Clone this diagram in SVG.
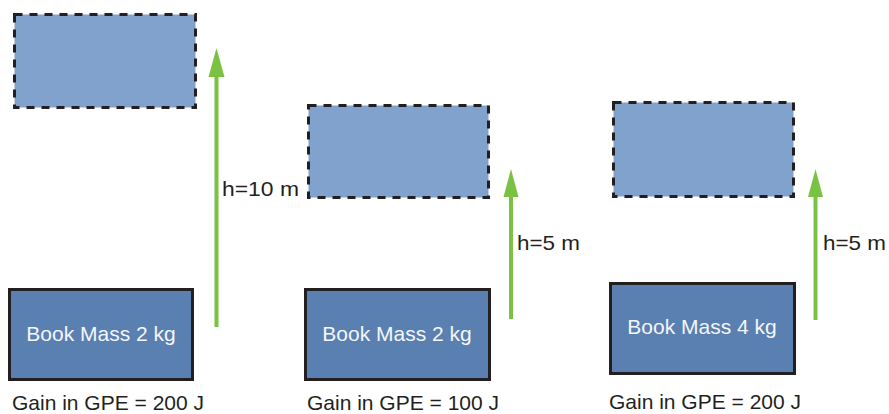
<svg xmlns="http://www.w3.org/2000/svg" width="889" height="414" viewBox="0 0 889 414">
<defs>
<style>
.ghost{fill:#80a2cd;stroke:#231f20;stroke-width:3;stroke-dasharray:8 7}
.book{fill:#5a7fb1;stroke:#231f20;stroke-width:3}
.bt{font-family:"Liberation Sans",Arial,sans-serif;font-size:21px;fill:#f4f6fa;text-anchor:middle}
.lb{font-family:"Liberation Sans",Arial,sans-serif;font-size:21px;fill:#231f20}
.arr{stroke:#7cc242;stroke-width:4;fill:none}
.head{fill:#7cc242}
</style>
</defs>
<rect width="889" height="414" fill="#ffffff"/>
<g id="ghost1"><rect class="ghost" x="14.5" y="14.5" width="181" height="93"/></g>
<g id="ghost2"><rect class="ghost" x="308.5" y="105.5" width="180" height="92"/></g>
<g id="ghost3"><rect class="ghost" x="613.5" y="102.5" width="180" height="94"/></g>
<g id="book1"><rect class="book" x="9.5" y="289.5" width="183" height="90"/><text class="bt" x="101" y="341">Book Mass 2 kg</text></g>
<g id="book2"><rect class="book" x="305.5" y="289.5" width="184" height="90"/><text class="bt" x="397" y="341">Book Mass 2 kg</text></g>
<g id="book3"><rect class="book" x="610.5" y="283.5" width="184" height="90"/><text class="bt" x="702" y="334">Book Mass 4 kg</text></g>
<g id="connectors">
<line class="arr" x1="216.5" y1="327" x2="216.5" y2="75"/>
<polygon class="head" points="216.5,48 224.5,77 208.5,77"/>
<line class="arr" x1="511" y1="319" x2="511" y2="195"/>
<polygon class="head" points="511,169 518.5,197 503.5,197"/>
<line class="arr" x1="815.5" y1="320" x2="815.5" y2="195"/>
<polygon class="head" points="815.5,169 823,197 808,197"/>
</g>
<g id="labels">
<text class="lb" x="222" y="196" textLength="77" lengthAdjust="spacingAndGlyphs">h=10 m</text>
<text class="lb" x="517" y="250" textLength="63" lengthAdjust="spacingAndGlyphs">h=5 m</text>
<text class="lb" x="823" y="250" textLength="63" lengthAdjust="spacingAndGlyphs">h=5 m</text>
<text class="lb" x="12" y="409.5">Gain in GPE = 200 J</text>
<text class="lb" x="307" y="409.5">Gain in GPE = 100 J</text>
<text class="lb" x="609" y="409">Gain in GPE = 200 J</text>
</g>
</svg>
